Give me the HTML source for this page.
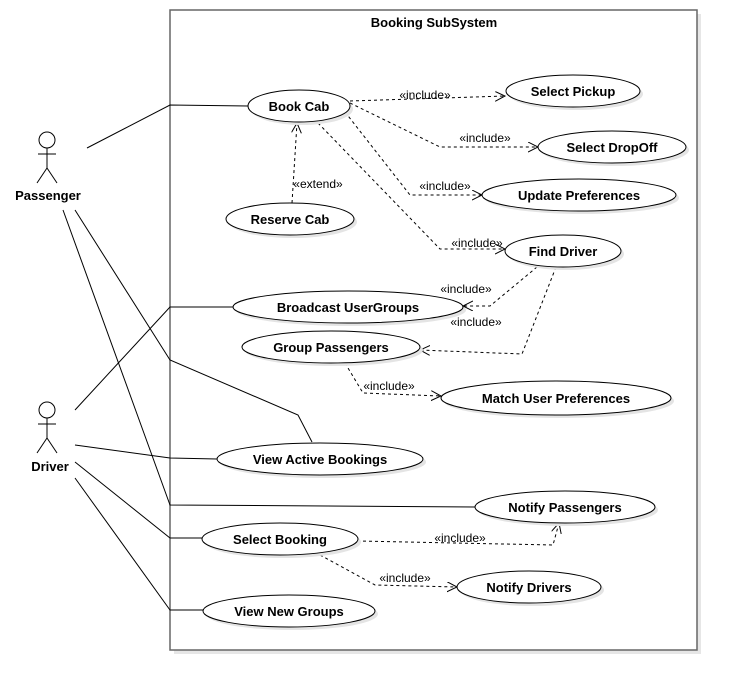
<!DOCTYPE html>
<html><head><meta charset="utf-8"><style>
html,body{margin:0;padding:0;background:#fff;}
svg{display:block;}
text{font-family:"Liberation Sans",sans-serif;}
.b{font-weight:bold;font-size:13px;text-anchor:middle;}
.s{font-size:12px;text-anchor:middle;}
</style></head><body>
<svg width="738" height="690" viewBox="0 0 738 690" xmlns="http://www.w3.org/2000/svg">
<defs>
<marker id="a" markerWidth="12" markerHeight="12" refX="10" refY="5" orient="auto" markerUnits="userSpaceOnUse">
<path d="M0,0 L10,5 L0,10" fill="none" stroke="#000" stroke-width="1"/>
</marker>
</defs>
<rect x="174" y="14" width="527" height="640" fill="#e6e6e6"/>
<rect x="170" y="10" width="527" height="640" fill="#fff" stroke="#666" stroke-width="1.5"/>
<text x="434" y="27" class="b" style="font-size:13px">Booking SubSystem</text>

<g stroke="#000" stroke-width="1" fill="none">
<circle cx="47" cy="140" r="8" fill="#fff"/>
<line x1="47" y1="148" x2="47" y2="168"/><line x1="38" y1="154" x2="56" y2="154"/>
<line x1="47" y1="168" x2="37" y2="183"/><line x1="47" y1="168" x2="57" y2="183"/>
<circle cx="47" cy="410" r="8" fill="#fff"/>
<line x1="47" y1="418" x2="47" y2="438"/><line x1="38" y1="424" x2="56" y2="424"/>
<line x1="47" y1="438" x2="37" y2="453"/><line x1="47" y1="438" x2="57" y2="453"/>
</g>
<text x="48" y="200" class="b">Passenger</text>
<text x="50" y="471" class="b">Driver</text>

<g stroke="#000" stroke-width="1" fill="none">
<polyline points="87,148 170,105 248,106"/>
<polyline points="75,210 170,360 298,415 312,442"/>
<polyline points="63,210 170,505 475,507"/>
<polyline points="75,410 170,307 233,307"/>
<polyline points="75,445 170,458 217,459"/>
<polyline points="75,462 170,538 202,538"/>
<polyline points="75,478 170,610 203,610"/>
</g>

<g stroke="#000" stroke-width="1" fill="none" stroke-dasharray="3,3" marker-end="url(#a)">
<polyline points="350,101 505,96"/>
<polyline points="350,103 440,147 538,147"/>
<polyline points="345,112 410,195 482,195"/>
<polyline points="318,123 440,249 505,249"/>
<polyline points="292,203 297,123"/>
<polyline points="537,267 490,306 463,306"/>
<polyline points="556,267 522,354 420,350"/>
<polyline points="345,363 363,393 441,396"/>
<polyline points="357,541 553,545 559,523"/>
<polyline points="320,555 375,585 457,587"/>
</g>
<g class="s">
<text x="425" y="99" class="s">«include»</text>
<text x="485" y="142" class="s">«include»</text>
<text x="445" y="190" class="s">«include»</text>
<text x="477" y="247" class="s">«include»</text>
<text x="318" y="188" class="s">«extend»</text>
<text x="466" y="293" class="s">«include»</text>
<text x="476" y="326" class="s">«include»</text>
<text x="389" y="390" class="s">«include»</text>
<text x="460" y="542" class="s">«include»</text>
<text x="405" y="582" class="s">«include»</text>
</g>

<g>
<g fill="#e4e4e4">
<ellipse cx="302" cy="109" rx="51" ry="16"/>
<ellipse cx="576" cy="94" rx="67" ry="16"/>
<ellipse cx="615" cy="150" rx="74" ry="16"/>
<ellipse cx="582" cy="198" rx="97" ry="16"/>
<ellipse cx="293" cy="222" rx="64" ry="16"/>
<ellipse cx="566" cy="254" rx="58" ry="16"/>
<ellipse cx="351" cy="310" rx="115" ry="16"/>
<ellipse cx="334" cy="350" rx="89" ry="16"/>
<ellipse cx="559" cy="401" rx="115" ry="17"/>
<ellipse cx="323" cy="462" rx="103" ry="16"/>
<ellipse cx="568" cy="510" rx="90" ry="16"/>
<ellipse cx="283" cy="542" rx="78" ry="16"/>
<ellipse cx="532" cy="590" rx="72" ry="16"/>
<ellipse cx="292" cy="614" rx="86" ry="16"/>
</g>
<g fill="#fff" stroke="#000" stroke-width="1">
<ellipse cx="299" cy="106" rx="51" ry="16"/>
<ellipse cx="573" cy="91" rx="67" ry="16"/>
<ellipse cx="612" cy="147" rx="74" ry="16"/>
<ellipse cx="579" cy="195" rx="97" ry="16"/>
<ellipse cx="290" cy="219" rx="64" ry="16"/>
<ellipse cx="563" cy="251" rx="58" ry="16"/>
<ellipse cx="348" cy="307" rx="115" ry="16"/>
<ellipse cx="331" cy="347" rx="89" ry="16"/>
<ellipse cx="556" cy="398" rx="115" ry="17"/>
<ellipse cx="320" cy="459" rx="103" ry="16"/>
<ellipse cx="565" cy="507" rx="90" ry="16"/>
<ellipse cx="280" cy="539" rx="78" ry="16"/>
<ellipse cx="529" cy="587" rx="72" ry="16"/>
<ellipse cx="289" cy="611" rx="86" ry="16"/>
</g>
<g class="b">
<text x="299" y="111" class="b">Book Cab</text>
<text x="573" y="96" class="b">Select Pickup</text>
<text x="612" y="152" class="b">Select DropOff</text>
<text x="579" y="200" class="b">Update Preferences</text>
<text x="290" y="224" class="b">Reserve Cab</text>
<text x="563" y="256" class="b">Find Driver</text>
<text x="348" y="312" class="b">Broadcast UserGroups</text>
<text x="331" y="352" class="b">Group Passengers</text>
<text x="556" y="403" class="b">Match User Preferences</text>
<text x="320" y="464" class="b">View Active Bookings</text>
<text x="565" y="512" class="b">Notify Passengers</text>
<text x="280" y="544" class="b">Select Booking</text>
<text x="529" y="592" class="b">Notify Drivers</text>
<text x="289" y="616" class="b">View New Groups</text>
</g>
</g>
</svg>
</body></html>
